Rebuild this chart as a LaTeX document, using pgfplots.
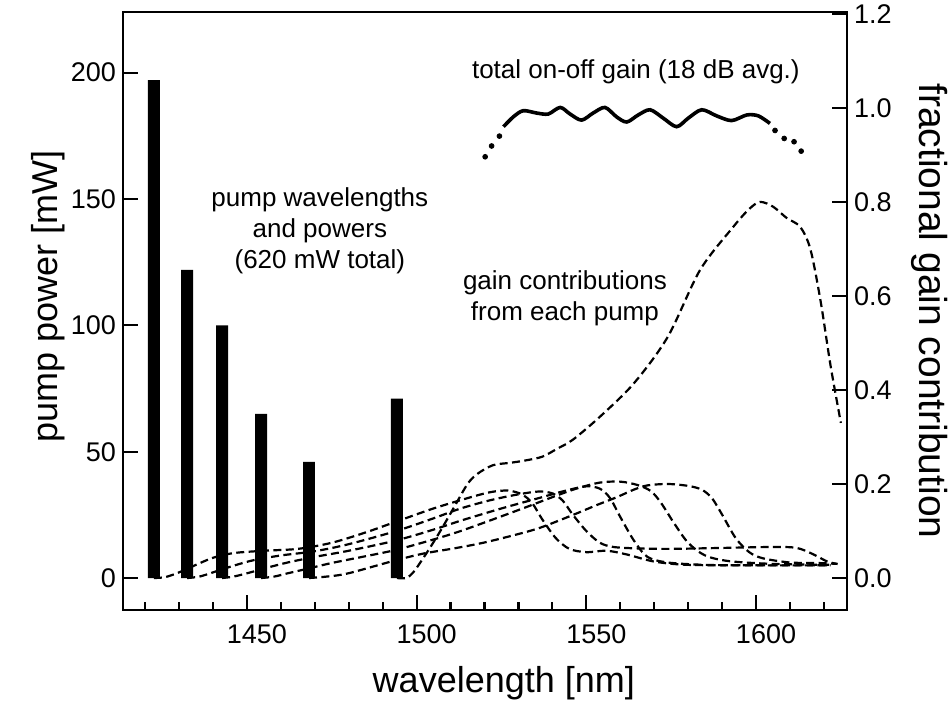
\documentclass[border=0pt]{standalone}
\usepackage{fontspec}
\setmainfont{Liberation Sans}
\usepackage{pgfplots}
\pgfplotsset{compat=1.18}

\pgfplotsset{
  gaincurve/.style={black, line width=1.1pt, dash pattern=on 4pt off 2.2pt, smooth, tension=0.5},
  common/.style={
    width=362pt, height=299pt, scale only axis,
    xmin=1413.5, xmax=1626.8,
    axis line style={line width=1.2pt},
    tick style={black, line width=1.1pt},
    major tick length=7.5pt, minor tick length=4pt,
    tick align=inside,
    /pgf/number format/assume math mode=true,
    ticklabel style={font=\fontsize{13.5}{16}\selectfont},
    label style={font=\fontsize{18}{21}\selectfont},
  },
}

\begin{document}
\begin{tikzpicture}
\path[use as bounding box] (-61.5pt,-45.5pt) rectangle (413.5pt,305pt);

% left axis: pump powers
\begin{axis}[common,
    ymin=-12.6, ymax=224,
    xtick={1450,1500,1550,1600},
    minor xtick={1420,1430,1440,1460,1470,1480,1490,1510,1520,1530,1540,1560,1570,1580,1590,1610,1620},
    xtick pos=left, xticklabel pos=left,
    ytick={0,50,100,150,200},
    ytick pos=left, yticklabel pos=left,
    xticklabel style={yshift=-4pt, xshift=5pt},
    /pgf/number format/set thousands separator={},
    xlabel={wavelength [nm]},
    ylabel={pump power [mW]},
    xlabel style={at={(axis description cs:0.526,-0.122)}, anchor=center},
    ylabel style={at={(axis description cs:-0.104,0.525)}, anchor=center},
  ]
  \addplot[ybar, bar width=3.5, fill=black, draw=none] coordinates {
    (1422.6,197) (1432.4,122) (1442.7,100) (1454.2,65) (1468.3,46) (1494.2,71)
  };
  \node[font=\fontsize{13}{15.5}\selectfont, align=center] at (axis cs:1471.5,137.5)
    {pump wavelengths\\and powers\\(620 mW total)};
\end{axis}

% right axis: fractional gain contribution
\begin{axis}[common,
    ymin=-0.068, ymax=1.204,
    hide x axis,
    axis y line*=right,
    ytick={0,0.2,0.4,0.6,0.8,1.0,1.2},
    yticklabel style={/pgf/number format/fixed, /pgf/number format/fixed zerofill, /pgf/number format/precision=1},
    ylabel={fractional gain contribution},
    ylabel style={font=\fontsize{19.5}{22}\selectfont, at={(axis description cs:1.1146,0.50)}, anchor=center, rotate=180},
  ]
  % pump 1
  \addplot[gaincurve] coordinates {
    (1422.6,0) (1426,0.002) (1430,0.012) (1435,0.028) (1440,0.043) (1446,0.053)
    (1455,0.058) (1465,0.062) (1475,0.075) (1485,0.097) (1494,0.12) (1505,0.148)
    (1516,0.172) (1522,0.183) (1527,0.186) (1531,0.178) (1534,0.16) (1537,0.125)
    (1541,0.085) (1545,0.062) (1550,0.055) (1556,0.058) (1562,0.05) (1570,0.035)
    (1580,0.028) (1600,0.027) (1622,0.027)
  };
  % pump 2
  \addplot[gaincurve] coordinates {
    (1432.4,0) (1436,0.003) (1440,0.012) (1446,0.026) (1452,0.038) (1460,0.048)
    (1470,0.057) (1480,0.072) (1494,0.10) (1505,0.127) (1513,0.148) (1522,0.166)
    (1530,0.178) (1536,0.184) (1540,0.18) (1543,0.165) (1546,0.135) (1550,0.1)
    (1554,0.075) (1558,0.066) (1565,0.063) (1575,0.062) (1590,0.064) (1605,0.066)
    (1612,0.064) (1617,0.05) (1621,0.035) (1624,0.03)
  };
  % pump 3
  \addplot[gaincurve] coordinates {
    (1442.7,0) (1446,0.003) (1450,0.01) (1456,0.022) (1462,0.033) (1470,0.045)
    (1480,0.058) (1494,0.08) (1505,0.103) (1513,0.122) (1525,0.148) (1535,0.168)
    (1544,0.186) (1550,0.195) (1554,0.19) (1557,0.17) (1560,0.13) (1564,0.08)
    (1568,0.045) (1574,0.033) (1585,0.028) (1600,0.027) (1622,0.027)
  };
  % pump 4
  \addplot[gaincurve] coordinates {
    (1454.2,0) (1458,0.003) (1462,0.01) (1468,0.02) (1475,0.032) (1484,0.045)
    (1494,0.06) (1505,0.082) (1513,0.10) (1523,0.126) (1532,0.15) (1540,0.172)
    (1547,0.19) (1554,0.203) (1560,0.205) (1565,0.198) (1569,0.185) (1572,0.16)
    (1576,0.115) (1580,0.075) (1585,0.048) (1592,0.036) (1605,0.03) (1622,0.028)
  };
  % pump 5
  \addplot[gaincurve] coordinates {
    (1468.3,0) (1472,0.002) (1477,0.006) (1481,0.012) (1487,0.024) (1494,0.038)
    (1502,0.052) (1511,0.063) (1519,0.074) (1527,0.088) (1536,0.106) (1546,0.134)
    (1553,0.155) (1559,0.172) (1564,0.188) (1568,0.197) (1574,0.2) (1580,0.196)
    (1584,0.188) (1587,0.17) (1590,0.135) (1594,0.085) (1598,0.055) (1602,0.042)
    (1610,0.033) (1618,0.032) (1624,0.03)
  };
  % pump 6
  \addplot[gaincurve] coordinates {
    (1494.2,0) (1497,0) (1499,0.012) (1501,0.032) (1504,0.065) (1507,0.1)
    (1511,0.15) (1515,0.2) (1518,0.222) (1522.5,0.24) (1527.5,0.245) (1532,0.25)
    (1537,0.258) (1541.4,0.275) (1546,0.294) (1554,0.343) (1564,0.414) (1574,0.513)
    (1583.5,0.655) (1593.3,0.747) (1598,0.785) (1601.2,0.80) (1605,0.79) (1609,0.766)
    (1613,0.747) (1616,0.70) (1619,0.59) (1622,0.45) (1625,0.33)
  };
  % total gain
  \addplot[black, line width=1.8pt, smooth, tension=0.5] coordinates {
    (1525.6,0.960) (1528.5,0.981) (1531.4,0.994) (1535.4,0.989) (1538.8,0.987)
    (1542.3,1.001) (1545.2,0.987) (1548.6,0.974) (1552,0.989) (1555.5,1.001)
    (1558.9,0.981) (1561.9,0.970) (1565.3,0.985) (1568.8,0.996) (1572.7,0.978)
    (1576.6,0.960) (1580,0.978) (1584,0.996) (1588.4,0.983) (1592.8,0.973)
    (1597.3,0.985) (1600.7,0.983) (1604.1,0.967)
  };
  \addplot[only marks, mark=*, mark size=1.2pt, black] coordinates {
    (1520.2,0.896) (1522.1,0.919) (1524.4,0.940)
    (1605.6,0.952) (1608.3,0.935) (1611.2,0.928) (1613.3,0.908)
  };
  \node[font=\fontsize{13}{15.5}\selectfont] at (axis cs:1564.6,1.077)
    {total on-off gain (18 dB avg.)};
  \node[font=\fontsize{13}{15.5}\selectfont, align=center] at (axis cs:1543.7,0.596)
    {gain contributions\\from each pump};
\end{axis}
\end{tikzpicture}
\end{document}
